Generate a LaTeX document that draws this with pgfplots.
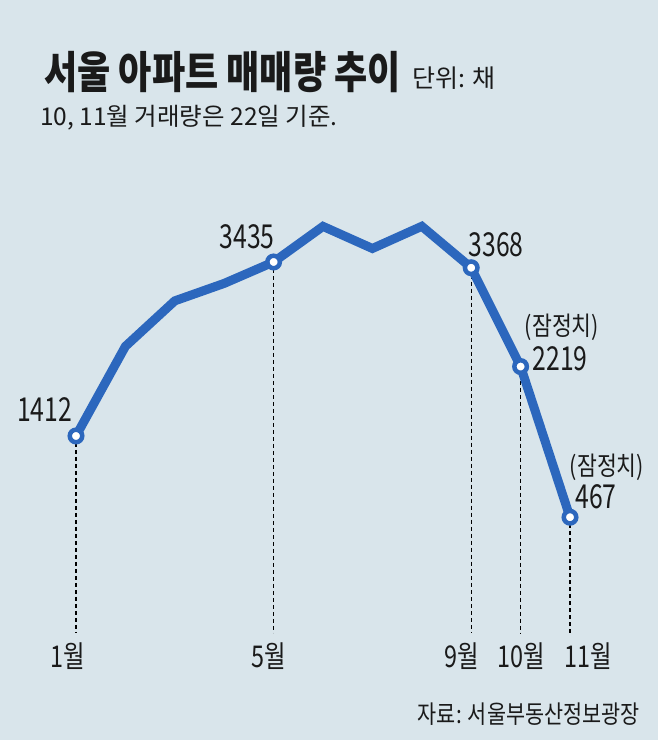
\documentclass[border=0pt]{standalone}
\usepackage{pgfplots}
\pgfplotsset{compat=1.18}
\usepackage{fontspec}
\setmainfont{Noto Sans CJK KR}
\newfontfamily\krT{Noto Sans CJK KR}[FakeStretch=0.82]
\newfontfamily\krN{Noto Sans CJK KR}[FakeStretch=0.83]
\newfontfamily\krD{Noto Sans CJK KR}[FakeStretch=0.75]
\newfontfamily\krM{Noto Sans CJK KR}[FakeStretch=0.78]
\newfontfamily\krW{Noto Sans CJK KR}[FakeStretch=1.0]
\definecolor{bg}{HTML}{D9E5EB}
\definecolor{lineblue}{HTML}{2C67BD}
\definecolor{txt}{HTML}{1A1A1A}
\begin{document}
\begin{tikzpicture}[x=1bp,y=1bp]
\fill[bg] (0,0) rectangle (658,740);
\path[use as bounding box] (0,0) rectangle (658,740);
% titles
\node[anchor=west,inner sep=0,text=txt] at (44,667.5) {\krT\bfseries\fontsize{44bp}{48bp}\selectfont 서울 아파트 매매량 추이};
\node[anchor=west,inner sep=0,text=txt] at (412,662) {\krW\fontsize{25bp}{28bp}\selectfont 단위: 채};
\node[anchor=west,inner sep=0,text=txt] at (40,622.5) {\krW\fontsize{24.5bp}{27bp}\selectfont 10, 11월 거래량은 22일 기준.};
\begin{axis}[at={(26.6bp,182.6bp)}, anchor=south west, scale only axis,
  width=592.8bp, height=361.2bp, xmin=0, xmax=12, ymin=0, ymax=4200,
  hide axis, clip=false]
\draw[black, line width=1.1bp, dash pattern=on 4bp off 3bp] (axis cs:1,1412) -- (axis cs:1,-879);
\draw[black, line width=1.1bp, dash pattern=on 4bp off 3bp] (axis cs:5,3435) -- (axis cs:5,-879);
\draw[black, line width=1.1bp, dash pattern=on 4bp off 3bp] (axis cs:9,3368) -- (axis cs:9,-879);
\draw[black, line width=1.1bp, dash pattern=on 4bp off 3bp] (axis cs:10,2219) -- (axis cs:10,-879);
\draw[black, line width=1.1bp, dash pattern=on 4bp off 3bp] (axis cs:11,467) -- (axis cs:11,-879);
\addplot[lineblue, line width=9bp, line join=miter, line cap=round, mark=none] coordinates {
(1,1412) (2,2454) (3,2983) (4,3186) (5,3435) (6,3849) (7,3592) (8,3850) (9,3368) (10,2219) (11,467)};
\addplot[only marks, mark=*, mark size=6.25bp, mark options={fill=white, draw=lineblue, line width=4.5bp}] coordinates {
(1,1412) (5,3435) (9,3368) (10,2219) (11,467)};
\end{axis}
% value labels
\begin{scope}[every node/.style={inner sep=0,text=txt}]
\node at (44.5,330) {\krD\fontsize{33bp}{35bp}\selectfont 1412};
\node at (247,503) {\krD\fontsize{33bp}{35bp}\selectfont 3435};
\node at (496,495) {\krD\fontsize{33bp}{35bp}\selectfont 3368};
\node at (562,413) {\krN\fontsize{26bp}{28bp}\selectfont (잠정치)};
\node at (560,381) {\krD\fontsize{33bp}{35bp}\selectfont 2219};
\node at (607,273) {\krN\fontsize{26bp}{28bp}\selectfont (잠정치)};
\node at (596,243) {\krD\fontsize{33bp}{35bp}\selectfont 467};
% month labels
\node at (68,84) {\krM\fontsize{30bp}{32bp}\selectfont 1월};
\node at (269,84) {\krM\fontsize{30bp}{32bp}\selectfont 5월};
\node at (462,84) {\krM\fontsize{30bp}{32bp}\selectfont 9월};
\node at (521,84) {\krM\fontsize{30bp}{32bp}\selectfont 10월};
\node at (588,84) {\krM\fontsize{30bp}{32bp}\selectfont 11월};
% source
\node[anchor=east] at (640,26) {\krN\fontsize{25bp}{28bp}\selectfont 자료: 서울부동산정보광장};
\end{scope}
\end{tikzpicture}
\end{document}
